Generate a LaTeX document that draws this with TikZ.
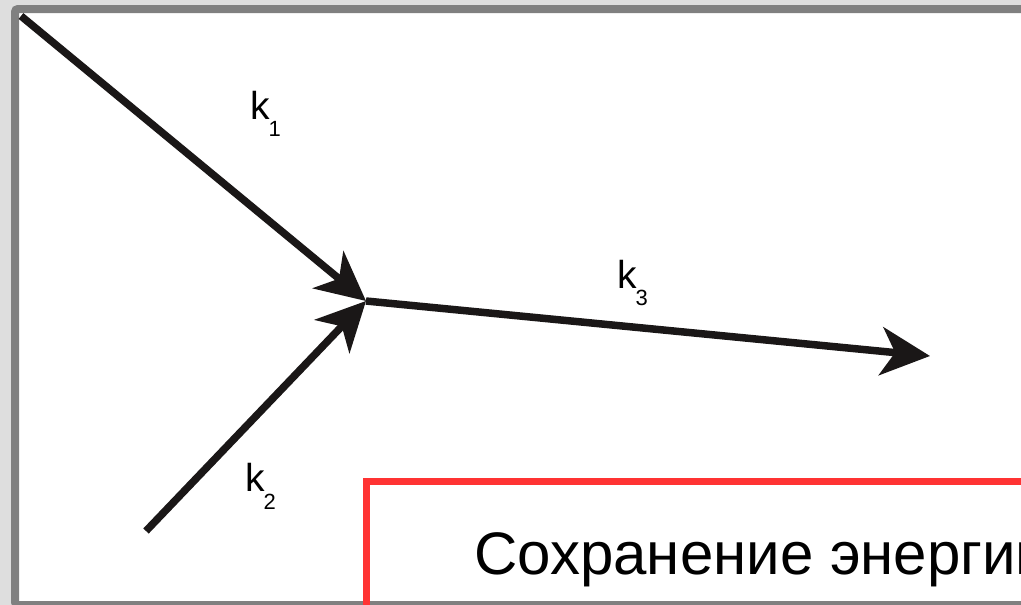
\documentclass[tikz,border=0pt]{standalone}
\usepackage{fontspec}
\setmainfont{Liberation Sans}
\usetikzlibrary{arrows.meta}
\definecolor{bgray}{HTML}{DEDEDE}
\definecolor{fgray}{HTML}{808080}
\definecolor{rline}{HTML}{FF3333}
\definecolor{ink}{HTML}{1A1717}
\begin{document}
\begin{tikzpicture}[x=1pt,y=-1pt,
  vec/.style={draw=ink,line width=7.5pt,-{Stealth[length=49pt,width=48pt,inset=14pt]}},
  klabel/.style={anchor=base west,inner sep=0pt,font=\fontsize{39}{39}\selectfont}]
\useasboundingbox (0,0) rectangle (1021,605);
\clip (0,0) rectangle (1021,605);
\fill[bgray] (0,0) rectangle (1021,605);
\filldraw[fill=white,draw=fgray,line width=8pt,rounded corners=3pt] (15,9) rectangle (1060,605);
\draw[rline,line width=7pt] (366,481) rectangle (1080,660);
\node[anchor=base west,inner sep=0pt,font=\fontsize{60}{60}\selectfont] (t) at (474,574) {Сохранение энергии};
\coordinate (a) at (21,16);
\coordinate (b) at (146,531);
\coordinate (c) at (366,301);
\coordinate (d) at (930,356);
\draw[vec] (a) -- (c);
\draw[vec] (b) -- (c);
\draw[vec] (c) -- (d);
\node[klabel] (k1) at (250,119) {k\kern-1pt\raisebox{-17pt}{\fontsize{22}{22}\selectfont 1}};
\node[klabel] (k2) at (245,491) {k\kern-1pt\raisebox{-18pt}{\fontsize{22}{22}\selectfont 2}};
\node[klabel] (k3) at (617,288) {k\kern-1pt\raisebox{-17pt}{\fontsize{22}{22}\selectfont 3}};
\end{tikzpicture}
\end{document}
